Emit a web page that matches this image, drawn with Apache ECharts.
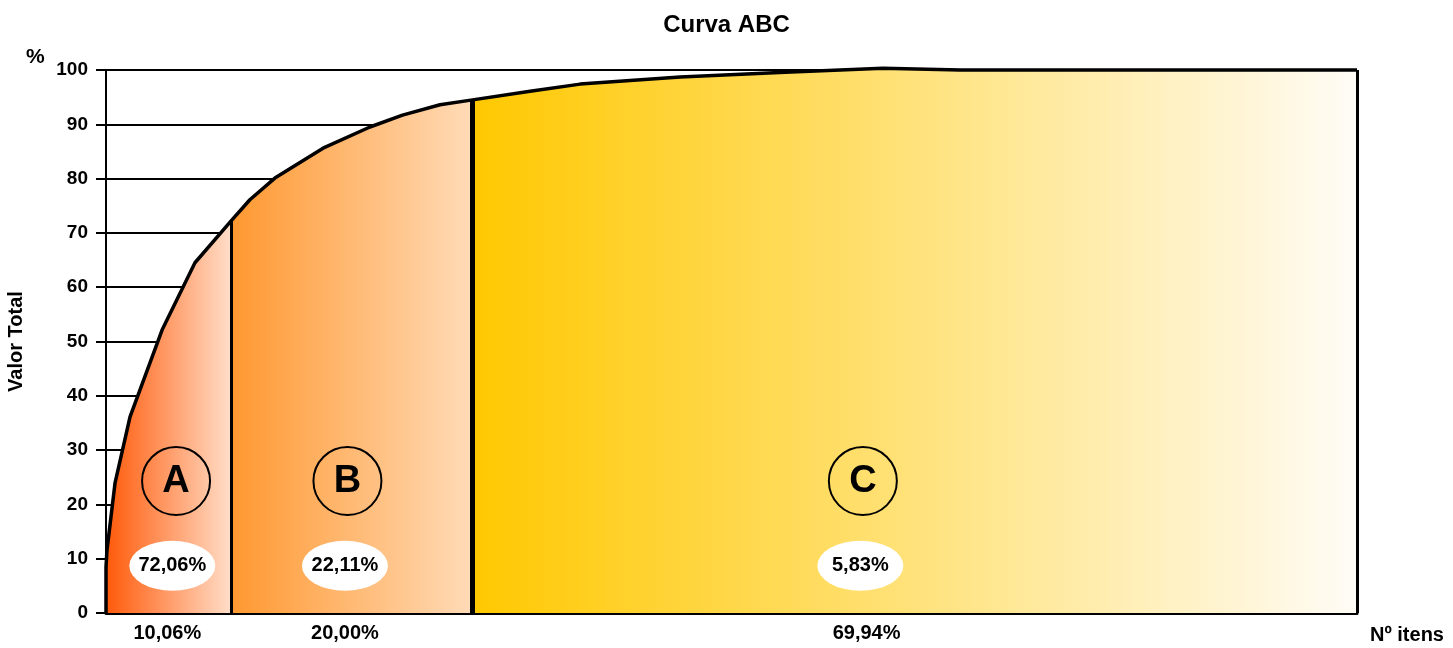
<!DOCTYPE html>
<html>
<head>
<meta charset="utf-8">
<script src="https://cdn.jsdelivr.net/npm/echarts@6/dist/echarts.min.js"></script>
<style>html,body{margin:0;padding:0;background:#fff}#c{width:1453px;height:648px}</style>
</head>
<body>
<div id="c"></div>
<script>
// Cumulative curve: x = % of items, y = % of total value
const curveX = [0, 0, 0.08, 0.72, 1.92, 4.48, 7.11, 10.0, 11.5, 13.5, 17.35, 21.1, 23.7, 26.7, 29.3, 33.9, 37.9, 45.9, 54.3, 62.1, 68.3, 100];
const curveY = [0, 8.5, 11.6, 23.9, 36.1, 52.1, 64.5, 72.2, 76.1, 80.1, 85.6, 89.5, 91.7, 93.6, 94.5, 96.1, 97.4, 98.7, 99.6, 100.3, 100, 100];
// Class boundaries (x)
const boundA = 10.0;
const boundB = 29.3;
// Class labels
const classNames = ['A', 'B', 'C'];
const classValuePct = ['72,06%', '22,11%', '5,83%'];
const classItemPct = ['10,06%', '20,00%', '69,94%'];
const classCenterX = [5.6, 19.3, 60.5];
const ellipseX = [5.3, 19.1, 60.3];
const itemLabelX = [4.9, 19.1, 60.8];
const letterY = 24.3;
const ellipseY = 8.7;

const pts = curveX.map((x, i) => [x, curveY[i]]);
const ptsA = pts.filter(p => p[0] <= boundA);
const ptsB = pts.filter(p => p[0] >= boundA && p[0] <= boundB);
const ptsC = pts.filter(p => p[0] >= boundB);

const F = '"Liberation Sans", Arial, sans-serif';
function grad(c0, c1) {
  return new echarts.graphic.LinearGradient(0, 0, 1, 0, [{offset: 0, color: c0}, {offset: 1, color: c1}]);
}
function areaSeries(data, c0, c1) {
  return {type: 'line', data, symbol: 'none', lineStyle: {width: 0}, clip: false,
    areaStyle: {color: grad(c0, c1), opacity: 1}, z: 2, silent: true};
}
const yAtBound = (b) => pts.find(p => p[0] === b)[1];

const chart = echarts.init(document.getElementById('c'));
chart.setOption({
  backgroundColor: '#fff',
  animation: false,
  title: [
    {text: 'Curva ABC', left: 'center', top: 8, textStyle: {fontFamily: F, fontSize: 24, fontWeight: 'bold', color: '#000'}},
    {text: '%', left: 21, top: 42, textStyle: {fontFamily: F, fontSize: 21, fontWeight: 'bold', color: '#000'}}
  ],
  grid: {left: 106, right: 96, top: 70, bottom: 35, show: false, containLabel: false, outerBoundsMode: 'none'},
  xAxis: {
    type: 'value', min: 0, max: 100,
    name: 'Nº itens', nameLocation: 'end', nameGap: 13,
    nameTextStyle: {fontFamily: F, fontSize: 20, fontWeight: 'bold', color: '#000', verticalAlign: 'top', padding: [12, 0, 0, 0]},
    axisLine: {show: true, lineStyle: {color: '#000', width: 3}},
    axisTick: {show: false}, axisLabel: {show: false}, splitLine: {show: false}
  },
  yAxis: {
    type: 'value', min: 0, max: 100, interval: 10,
    name: 'Valor Total', nameLocation: 'middle', nameGap: 80, nameRotate: 90,
    nameTextStyle: {fontFamily: F, fontSize: 20, fontWeight: 'bold', color: '#000'},
    axisLine: {show: true, lineStyle: {color: '#000', width: 2}},
    axisTick: {show: true, length: 10, lineStyle: {color: '#000', width: 2}},
    axisLabel: {margin: 18, fontFamily: F, fontSize: 19, fontWeight: 'bold', color: '#000'},
    splitLine: {show: true, lineStyle: {color: '#000', width: 2}}
  },
  series: [
    areaSeries(ptsA, '#FF5A0A', '#FFDEC8'),
    areaSeries(ptsB, '#FF9830', '#FFDBB8'),
    areaSeries(ptsC, '#FFC800', '#FFFCF6'),
    {
      type: 'line', data: pts, symbol: 'none', clip: false, z: 5, silent: true,
      lineStyle: {color: '#000', width: 3.5},
      markLine: {
        symbol: 'none', silent: true, label: {show: false},
        data: [
          [{coord: [boundA, 0], lineStyle: {color: '#000', width: 3, type: 'solid'}}, {coord: [boundA, yAtBound(boundA)]}],
          [{coord: [boundB, 0], lineStyle: {color: '#000', width: 5, type: 'solid'}}, {coord: [boundB, yAtBound(boundB)]}],
          [{coord: [100, 0], lineStyle: {color: '#000', width: 3, type: 'solid'}}, {coord: [100, 100]}]
        ]
      }
    },
    {
      type: 'scatter', z: 6, silent: true,
      data: classCenterX.map((x, i) => ({value: [x, letterY], name: classNames[i]})),
      symbol: 'circle', symbolSize: 68,
      itemStyle: {color: 'rgba(0,0,0,0)', borderColor: '#000', borderWidth: 2, opacity: 1},
      label: {show: true, position: 'inside', formatter: p => p.name, fontFamily: F, fontSize: 38, fontWeight: 'bold', color: '#000'}
    },
    {
      type: 'scatter', z: 6, silent: true,
      data: ellipseX.map((x, i) => ({value: [x, ellipseY], name: classValuePct[i]})),
      symbol: 'circle', symbolSize: [86, 50],
      itemStyle: {color: '#fff', borderWidth: 0, opacity: 1},
      label: {show: true, position: 'inside', formatter: p => p.name, fontFamily: F, fontSize: 20, fontWeight: 'bold', color: '#000'}
    },
    {
      type: 'scatter', z: 6, silent: true,
      data: itemLabelX.map((x, i) => ({value: [x, 0], name: classItemPct[i]})),
      symbol: 'circle', symbolSize: 0, itemStyle: {opacity: 1},
      label: {show: true, position: 'bottom', distance: 10, formatter: p => p.name, fontFamily: F, fontSize: 20, fontWeight: 'bold', color: '#000'}
    }
  ]
});
</script>
</body>
</html>
